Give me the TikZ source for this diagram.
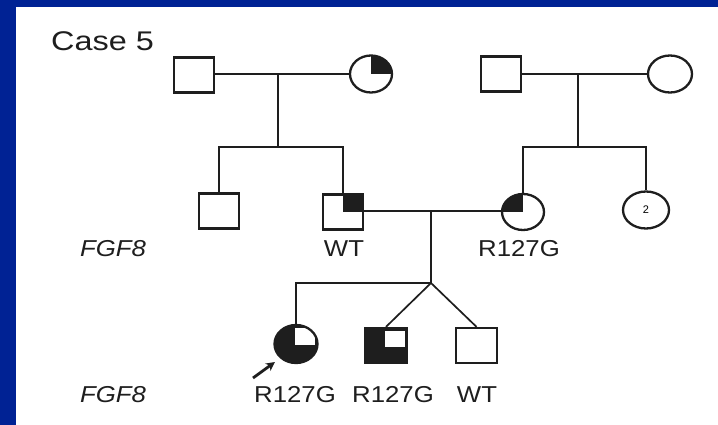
\documentclass[tikz,border=0pt]{standalone}
\usepackage{fontspec}
\setmainfont{Liberation Sans}
\usetikzlibrary{shapes.geometric,arrows.meta}
\definecolor{slideblue}{RGB}{0,34,148}
\definecolor{ink}{RGB}{30,30,30}
\tikzset{
  sym/.style={draw=ink, line width=2.3pt, inner sep=0pt, fill=white},
  male/.style={sym, rectangle, minimum width=40pt, minimum height=35pt},
  female/.style={sym, ellipse, minimum width=43pt, minimum height=37pt},
  qtr/.style={path picture={\fill[ink] (path picture bounding box.center) rectangle (path picture bounding box.north east);}},
  qtl/.style={path picture={\fill[ink] (path picture bounding box.center) rectangle (path picture bounding box.north west);}},
  three/.style={path picture={\fill[ink] (path picture bounding box.south west) rectangle (path picture bounding box.north east);
      \fill[white] ([xshift=-1pt,yshift=-1pt]path picture bounding box.center) rectangle ([xshift=-2.5pt,yshift=-2.5pt]path picture bounding box.north east);}},
  link/.style={draw=ink, line width=1.7pt},
  lbl/.style={inner sep=0pt, font=\fontsize{23}{26}\selectfont, text=ink},
}
\newcommand{\wide}[1]{\scalebox{1.12}[1]{#1}}
\begin{document}
\begin{tikzpicture}[x=1pt,y=-1pt]
  \useasboundingbox (0,0) rectangle (718,425);
  \fill[slideblue] (0,0) rectangle (718,425);
  \fill[white] (16,7) rectangle (718,425);

  % title
  \node[lbl, font=\fontsize{27}{30}\selectfont, anchor=west] (title) at (51,41) {\scalebox{1.2}[1]{Case 5}};

  % generation I
  \node[male] (m1) at (194,75) {};
  \node[female, minimum width=42pt, qtr] (f1) at (371,74) {};
  \node[male] (m2) at (501,74) {};
  \node[female, minimum width=44pt] (f2) at (670,74) {};

  % generation II
  \node[male] (m3) at (219,211) {};
  \node[male, qtr] (m4) at (343,212) {};
  \node[female, minimum width=42pt, minimum height=36pt, qtl] (f3) at (523,212) {};
  \node[female, minimum width=46pt, font=\fontsize{11}{12}\selectfont] (f4) at (646,210) {2};

  % generation III
  \node[female, minimum height=38pt, three] (p) at (296,344) {};
  \node[male, minimum width=42pt, three] (s1) at (386,345.5) {};
  \node[male, minimum width=41pt] (s2) at (476.5,345.5) {};

  % coordinates for lines
  \coordinate (d1) at (278,74);
  \coordinate (b1) at (278,147);
  \coordinate (d2) at (578,74);
  \coordinate (b2) at (578,147);
  \coordinate (d3) at (431,211);
  \coordinate (b3) at (431,283);

  % marriage lines
  \draw[link] (m1.east |- d1) -- (f1.west |- d1);
  \draw[link] (m2.east |- d2) -- (f2.west |- d2);
  \draw[link] (m4.east |- d3) -- (f3.west |- d3);

  % descent
  \draw[link] (d1) -- (b1);
  \draw[link] (d2) -- (b2);
  \draw[link] (d3) -- (b3);

  % sibships
  \draw[link] (m3.north) -- (m3.north |- b1) -- (m4.north |- b1) -- (m4.north);
  \draw[link] (f3.north) -- (f3.north |- b2) -- (f4.north |- b2) -- (f4.north);
  \draw[link] (p.north) -- (p.north |- b3) -- (b3);
  \draw[link] (b3) -- (s1.north);
  \draw[link] (b3) -- (s2.north);

  % proband arrow
  \coordinate (a0) at (253,378);
  \coordinate (a1) at (275,362);
  \draw[draw=ink, line width=2.8pt, -{Stealth[length=9pt,width=9pt]}] (a0) -- (a1);

  % labels
  \node[lbl] (g1) at (113,249) {\wide{\itshape FGF8}};
  \node[lbl] (l1) at (344,249) {\wide{WT}};
  \node[lbl] (l2) at (519,249) {\wide{R127G}};
  \node[lbl] (g2) at (113,395) {\wide{\itshape FGF8}};
  \node[lbl] (l3) at (295,395) {\wide{R127G}};
  \node[lbl] (l4) at (393,395) {\wide{R127G}};
  \node[lbl] (l5) at (477,395) {\wide{WT}};
\end{tikzpicture}
\end{document}
